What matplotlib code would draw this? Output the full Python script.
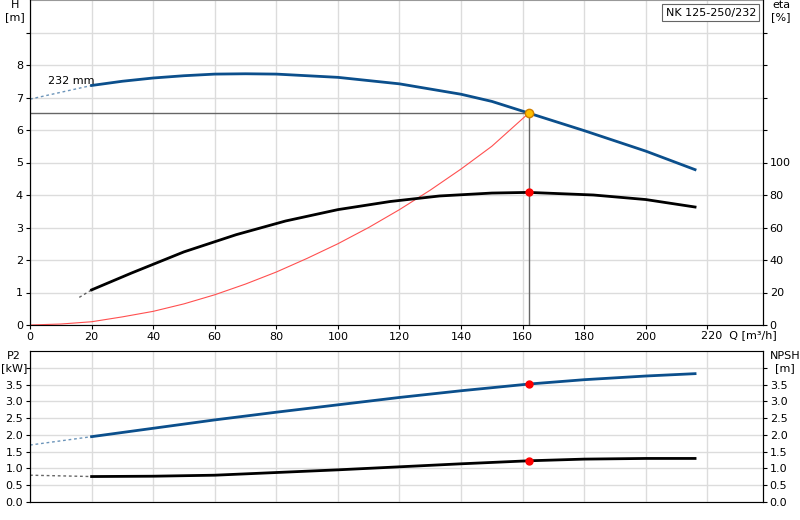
import numpy as np
import matplotlib.pyplot as plt

# Förderhöhe H [m]
q_h = [20, 30, 40, 50, 60, 70, 80, 100, 120, 140, 150, 162, 180, 200, 216]
h = [7.37, 7.5, 7.6, 7.67, 7.72, 7.73, 7.72, 7.62, 7.42, 7.1, 6.88, 6.52, 5.98, 5.35, 4.78]
h_ext = ([0, 20], [6.95, 7.37])

# Wirkungsgrad eta [%]
q_eta = [20, 33, 50, 67, 83, 100, 117, 133, 150, 162, 183, 200, 216]
eta = [21.6, 32, 45, 55.6, 64, 71, 76, 79.4, 81.2, 81.6, 80, 77.2, 72.6]
eta_ext = ([16, 20], [17, 21.6])

# Anlagenkennlinie
q_sys = [0, 10, 20, 30, 40, 50, 60, 70, 80, 90, 100, 110, 120, 130, 140, 150, 162]
h_sys = [0, 0.03, 0.1, 0.25, 0.42, 0.65, 0.93, 1.26, 1.63, 2.05, 2.5, 3.0, 3.55, 4.15, 4.8, 5.5, 6.52]

# Leistung P2 [kW]
q_p = [20, 40, 60, 80, 100, 120, 140, 162, 180, 200, 216]
p2 = [1.95, 2.2, 2.45, 2.68, 2.9, 3.12, 3.32, 3.52, 3.65, 3.76, 3.83]
p2_ext = ([0, 20], [1.7, 1.95])

# NPSH [m]
npsh = [0.76, 0.77, 0.8, 0.88, 0.96, 1.05, 1.14, 1.23, 1.28, 1.3, 1.3]
npsh_ext = ([0, 20], [0.8, 0.76])

q_op = 162
h_op = 6.52
eta_op = 81.6
p2_op = 3.52
npsh_op = 1.23

blue = '#0b4f8c'
grid = '#dcdcdc'
fs = 8

fig = plt.figure(figsize=(8, 5.2), dpi=100)
ax = fig.add_axes([0.0375, 0.375, 0.916, 0.625])
ax2 = ax.twinx()
bx = fig.add_axes([0.0375, 0.0346, 0.916, 0.29])

for a in (ax, bx):
    a.set_xlim(0, 238)
    a.set_xticks(range(0, 240, 20))
    a.grid(True, color=grid, lw=1)
    a.set_axisbelow(True)
    for s in ('top', 'bottom'):
        a.spines[s].set_color('#999999')
    a.tick_params(labelsize=fs, length=3, pad=2)

ax.set_ylim(0, 10)
ax.set_yticks(range(0, 10))
ax.set_yticklabels(['0', '1', '2', '3', '4', '5', '6', '7', '8', ''])
ax.set_xticklabels([str(v) if v < 220 else '' for v in range(0, 240, 20)])
ax2.set_ylim(0, 200)
ax2.set_yticks([0, 20, 40, 60, 80, 100, 120, 140, 160, 180])
ax2.set_yticklabels(['0', '20', '40', '60', '80', '100', '', '', '', ''])
ax2.tick_params(labelsize=fs, length=3, pad=2)
ax2.spines['top'].set_visible(False)

ax.plot(q_h, h, color=blue, lw=2)
ax.plot(*h_ext, color=blue, lw=1, ls=(0, (2, 2)), alpha=0.6)
ax2.plot(q_eta, eta, color='black', lw=2)
ax2.plot(*eta_ext, color='black', lw=1, ls=(0, (2, 2)), alpha=0.6)
ax.plot(q_sys, h_sys, color='#ff5050', lw=0.8)
ax.plot([0, q_op], [h_op, h_op], color='#666666', lw=1)
ax.plot([q_op, q_op], [0, h_op], color='#666666', lw=1)
ax.plot(q_op, h_op, 'o', ms=6, mfc='#ffc000', mec='#d08000', zorder=5)
ax2.plot(q_op, eta_op, 'o', ms=5, color='red', zorder=5)
ax.text(6, 7.4, '232 mm', fontsize=fs)
ax.text(-0.02, 1.0, 'H\n[m]', transform=ax.transAxes, ha='center', va='top', fontsize=fs)
ax.text(1.025, 1.0, 'eta\n[%]', transform=ax.transAxes, ha='center', va='top', fontsize=fs)
ax.text(218, -0.15, '220  Q [m³/h]', ha='left', va='top', fontsize=fs)
fig.text(0.945, 0.985, 'NK 125-250/232', fontsize=fs, va='top', ha='right',
         bbox=dict(boxstyle='square,pad=0.3', fc='white', ec='#666666', lw=0.8))

bx.set_ylim(0, 4.5)
bx.set_yticks(np.arange(0, 4.5, 0.5))
bx.set_yticklabels(['0.0', '0.5', '1.0', '1.5', '2.0', '2.5', '3.0', '3.5', ''])
bx.set_xticklabels([])
bx.tick_params(axis='x', length=0)
bx2 = bx.twinx()
bx2.set_ylim(0, 4.5)
bx2.set_yticks(np.arange(0, 4.5, 0.5))
bx2.set_yticklabels(['0.0', '0.5', '1.0', '1.5', '2.0', '2.5', '3.0', '3.5', ''])
bx2.tick_params(labelsize=fs, length=3, pad=2)

bx.plot(q_p, p2, color=blue, lw=2)
bx.plot(*p2_ext, color=blue, lw=1, ls=(0, (2, 2)), alpha=0.6)
bx.plot(q_p, npsh, color='black', lw=2)
bx.plot(*npsh_ext, color='black', lw=1, ls=(0, (2, 2)), alpha=0.6)
bx.plot([q_op, q_op], [p2_op, npsh_op], 'o', ms=5, color='red', ls='none', zorder=5)
bx.text(-0.022, 1.0, 'P2\n[kW]', transform=bx.transAxes, ha='center', va='top', fontsize=fs)
bx.text(1.03, 1.0, 'NPSH\n[m]', transform=bx.transAxes, ha='center', va='top', fontsize=fs)

fig.savefig('out.png', dpi=100)
